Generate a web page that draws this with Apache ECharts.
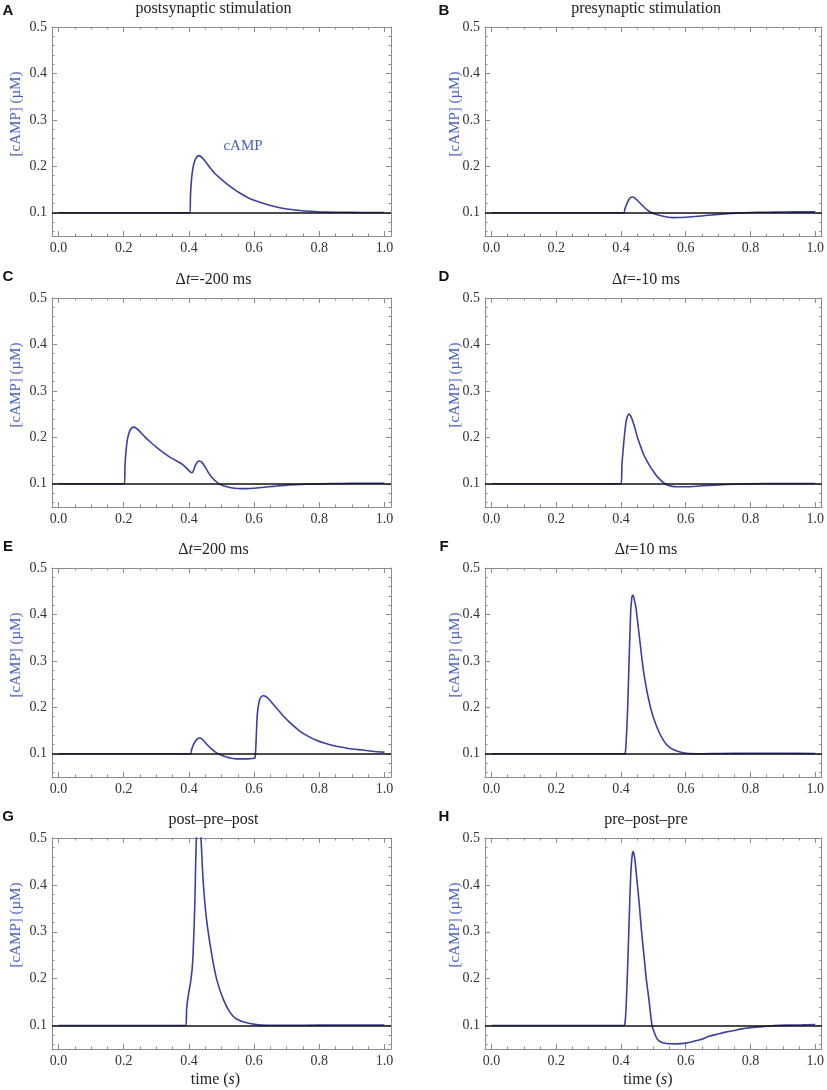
<!DOCTYPE html>
<html>
<head>
<meta charset="utf-8">
<script src="https://cdn.jsdelivr.net/npm/echarts@6/dist/echarts.min.js"></script>
<style>
  html, body { margin: 0; padding: 0; background: #fff; }
  #chart { width: 827px; height: 1090px; }
</style>
</head>
<body>
<div id="chart"></div>
<script>
// ---- axis ticks ----
const xTickValues = [0, 0.2, 0.4, 0.6, 0.8, 1.0];
const xMinorTicks = [0.05, 0.1, 0.15, 0.25, 0.3, 0.35, 0.45, 0.5, 0.55, 0.65, 0.7, 0.75, 0.85, 0.9, 0.95];
const yTickValues = [0.1, 0.2, 0.3, 0.4, 0.5];
const yMinorTicks = [0.06, 0.08, 0.12, 0.14, 0.16, 0.18, 0.22, 0.24, 0.26, 0.28,
                     0.32, 0.34, 0.36, 0.38, 0.42, 0.44, 0.46, 0.48];
const baseline = 0.1;

// ---- panel texts ----
const panelLetters = ['A', 'B', 'C', 'D', 'E', 'F', 'G', 'H'];
const panelTitles = ['postsynaptic stimulation', 'presynaptic stimulation',
  'Δt=-200 ms', 'Δt=-10 ms', 'Δt=200 ms', 'Δt=10 ms', 'post–pre–post', 'pre–post–pre'];

// ---- cAMP traces [time (s), cAMP (µM)] ----
const postData = [[0,0.1],[0.403,0.1],[0.405,0.14],[0.408,0.172],[0.412,0.195],[0.417,0.21],[0.423,0.219],
  [0.43,0.223],[0.437,0.221],[0.45,0.211],[0.465,0.197],[0.48,0.184],[0.5,0.172],[0.52,0.16],[0.54,0.15],
  [0.56,0.141],[0.58,0.133],[0.6,0.127],[0.63,0.12],[0.66,0.114],[0.7,0.108],[0.74,0.105],[0.78,0.103],
  [0.82,0.1015],[0.88,0.101],[0.94,0.1005],[1.0,0.1005]];
const preData = [[0,0.1],[0.408,0.1],[0.412,0.108],[0.418,0.119],[0.424,0.128],[0.43,0.133],[0.436,0.134],
  [0.442,0.132],[0.45,0.127],[0.46,0.12],[0.47,0.113],[0.48,0.107],[0.49,0.102],[0.5,0.0985],[0.515,0.095],
  [0.53,0.0925],[0.545,0.0905],[0.56,0.0895],[0.58,0.0897],[0.6,0.0905],[0.63,0.092],[0.66,0.094],[0.7,0.0965],
  [0.74,0.0985],[0.78,0.1],[0.82,0.101],[0.88,0.1015],[0.94,0.102],[1.0,0.102]];
const dtMinus200Data = [[0,0.1],[0.202,0.1],[0.204,0.14],[0.207,0.17],[0.211,0.194],[0.216,0.209],[0.222,0.218],
  [0.23,0.222],[0.238,0.22],[0.25,0.212],[0.265,0.201],[0.28,0.191],[0.3,0.179],[0.32,0.168],[0.34,0.158],
  [0.36,0.15],[0.38,0.142],[0.395,0.132],[0.405,0.125],[0.41,0.124],[0.415,0.13],[0.42,0.14],[0.426,0.147],
  [0.432,0.149],[0.44,0.146],[0.45,0.136],[0.46,0.124],[0.47,0.114],[0.48,0.107],[0.49,0.101],[0.5,0.0975],
  [0.52,0.093],[0.54,0.0905],[0.56,0.0895],[0.58,0.0895],[0.6,0.0905],[0.63,0.0925],[0.66,0.0945],[0.7,0.097],
  [0.74,0.0985],[0.78,0.0995],[0.84,0.1005],[0.9,0.101],[1.0,0.101]];
const dtMinus10Data = [[0,0.1],[0.4,0.1],[0.403,0.141],[0.408,0.184],[0.413,0.219],[0.418,0.241],[0.425,0.25],
  [0.432,0.243],[0.44,0.227],[0.45,0.202],[0.461,0.18],[0.47,0.163],[0.481,0.148],[0.49,0.137],[0.501,0.126],
  [0.51,0.117],[0.521,0.109],[0.53,0.103],[0.541,0.098],[0.555,0.095],[0.572,0.0935],[0.6,0.0935],[0.65,0.0957],
  [0.7,0.0975],[0.75,0.099],[0.8,0.1],[0.9,0.1007],[1.0,0.1007]];
const dt200Data = [[0,0.1],[0.405,0.1],[0.408,0.108],[0.413,0.118],[0.42,0.127],[0.426,0.132],[0.432,0.134],
  [0.44,0.132],[0.454,0.121],[0.47,0.11],[0.485,0.102],[0.5,0.097],[0.515,0.093],[0.53,0.0905],[0.546,0.089],
  [0.577,0.089],[0.6,0.0905],[0.603,0.092],[0.605,0.11],[0.607,0.143],[0.61,0.186],[0.615,0.211],[0.62,0.221],
  [0.628,0.225],[0.635,0.224],[0.645,0.218],[0.658,0.207],[0.673,0.195],[0.689,0.182],[0.71,0.167],[0.74,0.149],
  [0.765,0.138],[0.791,0.129],[0.815,0.123],[0.842,0.118],[0.87,0.114],[0.893,0.111],[0.92,0.109],[0.944,0.107],
  [0.97,0.105],[1.0,0.1036]];
const dt10Data = [[0,0.1],[0.41,0.1],[0.413,0.101],[0.415,0.114],[0.42,0.186],[0.425,0.3],[0.43,0.407],
  [0.432,0.425],[0.435,0.441],[0.438,0.44],[0.441,0.432],[0.446,0.415],[0.456,0.357],[0.471,0.271],[0.491,0.2],
  [0.511,0.157],[0.531,0.129],[0.551,0.113],[0.572,0.106],[0.602,0.101],[0.65,0.1],[0.7,0.1005],[0.8,0.101],
  [0.9,0.101],[1.0,0.1005]];
const postPrePostData = [[0,0.1],[0.391,0.1],[0.393,0.135],[0.398,0.164],[0.405,0.192],[0.41,0.221],
  [0.413,0.256],[0.418,0.356],[0.423,0.5],[0.43,0.56],[0.437,0.5],[0.444,0.405],[0.454,0.327],[0.469,0.256],
  [0.485,0.199],[0.505,0.157],[0.526,0.128],[0.546,0.114],[0.577,0.106],[0.607,0.102],[0.64,0.1007],
  [0.7,0.1005],[0.8,0.101],[0.9,0.1012],[1.0,0.1012]];
const prePostPreData = [[0,0.1],[0.41,0.1],[0.412,0.104],[0.415,0.128],[0.42,0.214],[0.425,0.32],[0.43,0.42],
  [0.434,0.46],[0.4375,0.471],[0.441,0.463],[0.445,0.441],[0.45,0.405],[0.456,0.363],[0.463,0.305],[0.471,0.249],
  [0.478,0.2],[0.486,0.157],[0.496,0.1],[0.503,0.085],[0.511,0.072],[0.52,0.066],[0.531,0.063],[0.55,0.0612],
  [0.572,0.061],[0.6,0.0625],[0.622,0.066],[0.65,0.071],[0.672,0.077],[0.7,0.082],[0.723,0.086],[0.75,0.0895],
  [0.773,0.093],[0.8,0.0955],[0.824,0.097],[0.85,0.0985],[0.874,0.1],[0.92,0.101],[0.96,0.1015],[1.0,0.102]];

const panelData = [postData, preData, dtMinus200Data, dtMinus10Data, dt200Data, dt10Data, postPrePostData, prePostPreData];

// ---- layout / style ----
const xMin = -0.02, xMax = 1.02, yMin = 0.05, yMax = 0.5;
const colLeft = [52, 485], colWidth = [339, 338];
const rowTop = [27, 298, 568, 838], rowHeight = [209, 209, 209, 211];
const serif = 'Liberation Serif';
const frameColor = '#8c8c8c';
const tickColor = '#8c8c8c';
const curveColor = '#3b3f9e';
const labelBlue = '#4a60c0';

const chart = echarts.init(document.getElementById('chart'));

const grids = [], xAxes = [], yAxes = [], series = [], graphics = [];

function frameAxis(base, position, values, len, withLine, label) {
  return Object.assign({}, base, {
    position,
    axisLine: { show: withLine, onZero: false, lineStyle: { color: frameColor, width: 1 } },
    axisTick: { show: true, inside: true, length: len, customValues: values,
      lineStyle: { color: tickColor, width: 1 } },
    axisLabel: label || { show: false },
    splitLine: { show: false },
    minorTick: { show: false }
  });
}

// 把标题中的 Δt 处理成斜体 t
function richTitle(s) {
  if (s.indexOf('Δt') === 0) return '{n|Δ}{i|t}{n|' + s.slice(2) + '}';
  return '{n|' + s + '}';
}

panelData.forEach((data, i) => {
  const col = i % 2, row = Math.floor(i / 2);
  const left = colLeft[col], top = rowTop[row], width = colWidth[col], height = rowHeight[row];
  grids.push({ left, top, width, height });

  const xBase = { gridIndex: i, type: 'value', min: xMin, max: xMax };
  const yBase = { gridIndex: i, type: 'value', min: yMin, max: yMax };
  const xLabel = { show: true, customValues: xTickValues, formatter: v => v.toFixed(1), margin: 5,
    fontFamily: serif, fontSize: 14, color: '#333' };
  const yLabel = { show: true, customValues: yTickValues, formatter: v => v.toFixed(1), margin: 5,
    fontFamily: serif, fontSize: 14, color: '#333' };

  xAxes.push(
    frameAxis(xBase, 'bottom', xTickValues, 5, true, xLabel),
    frameAxis(xBase, 'bottom', xMinorTicks, 2.5, false),
    frameAxis(xBase, 'top', xTickValues, 5, true),
    frameAxis(xBase, 'top', xMinorTicks, 2.5, false)
  );
  yAxes.push(
    frameAxis(yBase, 'left', yTickValues, 5, true, yLabel),
    frameAxis(yBase, 'left', yMinorTicks, 2.5, false),
    frameAxis(yBase, 'right', yTickValues, 5, true),
    frameAxis(yBase, 'right', yMinorTicks, 2.5, false)
  );

  series.push({
    type: 'line', xAxisIndex: 4 * i, yAxisIndex: 4 * i, data,
    showSymbol: false, symbol: 'none', smooth: 0.3,
    lineStyle: { color: curveColor, width: 1.6 }, z: 2, silent: true
  });
  series.push({
    type: 'line', xAxisIndex: 4 * i, yAxisIndex: 4 * i, data: [], z: 3, silent: true,
    markLine: {
      silent: true, symbol: ['none', 'none'], label: { show: false },
      lineStyle: { color: '#111', type: 'solid', width: 1.6 },
      data: [{ yAxis: baseline }]
    }
  });

  // 面板字母
  graphics.push({
    type: 'text', x: col === 0 ? 8 : 444, y: row === 0 ? 11 : top - 21,
    style: { text: panelLetters[i], font: 'bold 15px "Liberation Sans"', fill: '#111',
      align: 'center', verticalAlign: 'middle' }
  });
  // 标题
  graphics.push({
    type: 'text', x: left + width / 2 - 8, y: top - 18,
    style: {
      text: richTitle(panelTitles[i]), align: 'center', verticalAlign: 'middle',
      rich: {
        n: { fontFamily: serif, fontSize: 16, fill: '#222' },
        i: { fontFamily: serif, fontSize: 16, fontStyle: 'italic', fill: '#222' }
      }
    }
  });
  // y 轴标题
  graphics.push({
    type: 'text', x: col === 0 ? 16 : 455, y: top + 87, rotation: Math.PI / 2,
    style: { text: '[cAMP] (µM)', font: '15px "Liberation Serif"', fill: labelBlue,
      align: 'center', verticalAlign: 'middle' }
  });
  // x 轴标题 (最后一行)
  if (row === 3) {
    graphics.push({
      type: 'text', x: left + width / 2 - 6, y: 1080,
      style: {
        text: '{n|time (}{i|s}{n|)}', align: 'center', verticalAlign: 'middle',
        rich: {
          n: { fontFamily: serif, fontSize: 16, fill: '#222' },
          i: { fontFamily: serif, fontSize: 16, fontStyle: 'italic', fill: '#222' }
        }
      }
    });
  }
});

// 面板 A 中的曲线标注
graphics.push({
  type: 'text', x: 243, y: 146,
  style: { text: 'cAMP', font: '15px "Liberation Serif"', fill: labelBlue,
    align: 'center', verticalAlign: 'middle' }
});

chart.setOption({
  backgroundColor: '#fff',
  animation: false,
  grid: grids,
  xAxis: xAxes,
  yAxis: yAxes,
  series,
  graphic: graphics
});
</script>
</body>
</html>
